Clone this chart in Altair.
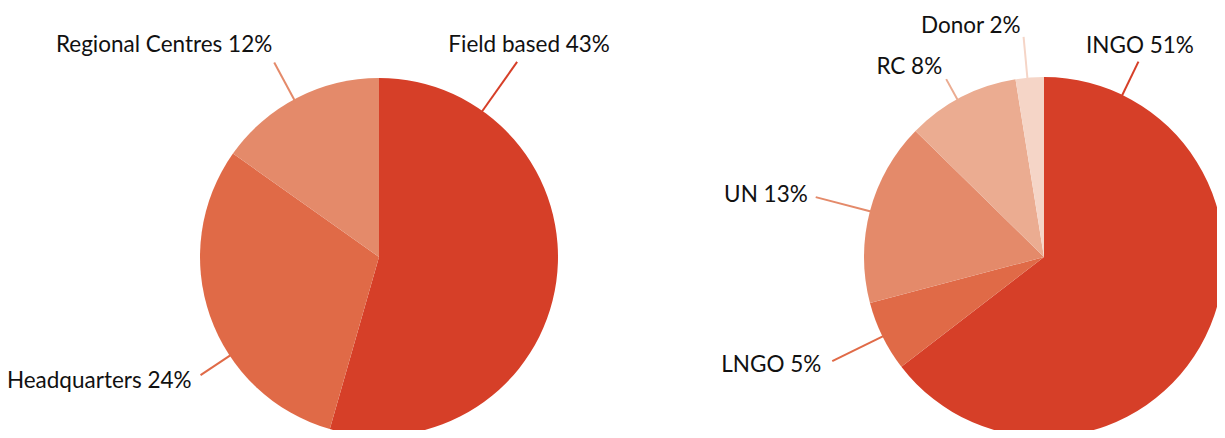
import math
import altair as alt
import pandas as pd

# ---------------- data ----------------
left_labels = ["Field based", "Headquarters", "Regional Centres"]
left_values = [43, 24, 12]
right_labels = ["INGO", "LNGO", "UN", "RC", "Donor"]
right_values = [51, 5, 13, 8, 2]

# ---------------- styles ----------------
left_colors = ["#d63f28", "#e06a47", "#e48a6a"]
right_colors = ["#d63f28", "#e06a47", "#e48a6a", "#ebac91", "#f5d5c7"]
FONT = "Lato"
FONT_SIZE = 22.5
TEXT_COLOR = "#111111"

# ---------------- layout (pixels, plot-area coordinates) ----------------
W, H = 1209, 422
left_center = (371, 249)
right_center = (1036, 249)
left_radius = 179
right_radius = 180
# leader line angle (deg clockwise from top) and outer radius per slice
left_leader_angle = [35.3, 236.5, 331.7]
left_leader_outer = [239, 214, 221]
right_leader_angle = [25.8, 243.8, 284.7, 331.2, 354.7]
right_leader_outer = [217, 236, 236, 203, 221]
# text anchor offset from leader end, and alignment
left_text_offset = [(12, -10), (-9, 13), (-2, -10)]
left_text_align = ["center", "right", "right"]
right_text_offset = [(1.5, -9), (-11, 11), (-8, 5), (-4, -5), (-3, -4)]
right_text_align = ["center", "right", "right", "right", "right"]


def pie_df(labels, values, colors):
    return pd.DataFrame({
        "label": labels,
        "value": values,
        "color": colors,
        "idx": list(range(len(labels))),
    })


def leader_df(labels, values, colors, center, radius, angles, outers, offsets, aligns):
    rows = []
    cx, cy = center
    for lab, v, c, a, ro, (dx, dy), al in zip(labels, values, colors, angles, outers, offsets, aligns):
        t = math.radians(a)
        x1 = cx + (radius - 2) * math.sin(t)
        y1 = cy - (radius - 2) * math.cos(t)
        x2 = cx + ro * math.sin(t)
        y2 = cy - ro * math.cos(t)
        rows.append({
            "text": f"{lab} {v}%",
            "color": c,
            "x1": x1, "y1": y1, "x2": x2, "y2": y2,
            "tx": x2 + dx, "ty": y2 + dy, "align": al,
        })
    return pd.DataFrame(rows)


def pie_layer(df, center, radius):
    return alt.Chart(df).mark_arc(radius=radius, strokeWidth=0).encode(
        theta=alt.Theta("value:Q", stack=True),
        order=alt.Order("idx:Q"),
        color=alt.Color("color:N", scale=None, legend=None),
        x=alt.value(center[0]),
        y=alt.value(center[1]),
    )


left_pie = pie_df(left_labels, left_values, left_colors)
right_pie = pie_df(right_labels, right_values, right_colors)

leaders = pd.concat([
    leader_df(left_labels, left_values, left_colors, left_center, left_radius,
              left_leader_angle, left_leader_outer, left_text_offset, left_text_align),
    leader_df(right_labels, right_values, right_colors, right_center, right_radius,
              right_leader_angle, right_leader_outer, right_text_offset, right_text_align),
], ignore_index=True)

rules = alt.Chart(leaders).mark_rule(strokeWidth=2).encode(
    x=alt.X("x1:Q", scale=None, axis=None),
    y=alt.Y("y1:Q", scale=None, axis=None),
    x2="x2:Q",
    y2="y2:Q",
    color=alt.Color("color:N", scale=None, legend=None),
)


def text_layer(align):
    return alt.Chart(leaders).transform_filter(
        alt.datum.align == align
    ).mark_text(
        align=align, baseline="alphabetic", font=FONT, fontSize=FONT_SIZE, color=TEXT_COLOR
    ).encode(
        x=alt.X("tx:Q", scale=None, axis=None),
        y=alt.Y("ty:Q", scale=None, axis=None),
        text="text:N",
    )


chart = alt.layer(
    pie_layer(left_pie, left_center, left_radius),
    pie_layer(right_pie, right_center, right_radius),
    rules,
    text_layer("right"),
    text_layer("center"),
).resolve_scale(
    theta="independent"
).properties(
    width=W, height=H, padding=0, autosize="none"
).configure_view(stroke=None)

chart.save("out.html", embed_options={"renderer": "svg", "actions": False})
